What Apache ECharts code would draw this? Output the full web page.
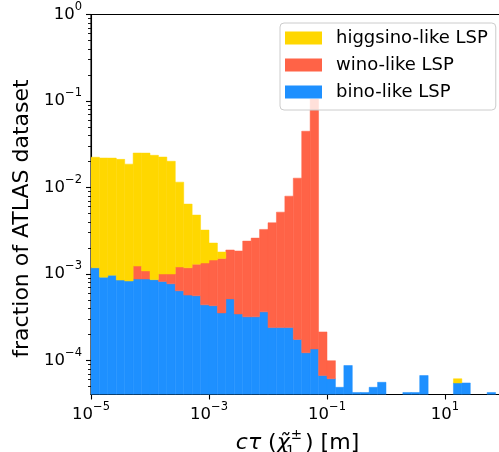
<!DOCTYPE html>
<html><head><meta charset="utf-8">
<script src="https://cdn.jsdelivr.net/npm/echarts@6/dist/echarts.min.js"></script>
<style>html,body{margin:0;padding:0;background:#fff}#c{width:499px;height:452px}</style>
</head><body><div id="c"></div>
<script>
// histogram bins: log-spaced, 7 bins per decade starting at 1e-5
const binStartExp = -5;
const binsPerDecade = 7;
const seriesNames = ['higgsino-like LSP', 'wino-like LSP', 'bino-like LSP'];
const bino = [1.18e-3, 9.2e-4, 9.7e-4, 8.5e-4, 8.3e-4, 8.75e-4, 8.75e-4, 8.6e-4, 8.2e-4, 7.7e-4,
  6.4e-4, 5.7e-4, 5.6e-4, 4.4e-4, 4.3e-4, 3.55e-4, 5.15e-4, 3.45e-4, 3.2e-4, 3.2e-4,
  3.65e-4, 2.4e-4, 2.4e-4, 2.4e-4, 1.75e-4, 1.23e-4, 1.36e-4, 6.7e-5, 6.15e-5, 4.9e-5,
  8.75e-5, 4.27e-5, 4.27e-5, 4.9e-5, 5.6e-5, 0, 0, 4.27e-5, 4.27e-5, 6.7e-5,
  0, 0, 0, 5.5e-5, 5.5e-5, 0, 0, 4.27e-5, 0];
const wino = [0, 0, 0, 0, 0, 3.6e-4, 2.1e-4, 0, 1.8e-4, 2.3e-4,
  5.65e-4, 6.1e-4, 7.4e-4, 9.0e-4, 1.02e-3, 1.16e-3, 1.38e-3, 1.50e-3, 2.08e-3, 2.28e-3,
  2.91e-3, 3.67e-3, 4.95e-3, 7.70e-3, 1.265e-2, 4.46e-2, 0.105, 1.47e-4, 3.8e-5, 0,
  0, 0, 0, 0, 0, 0, 0, 0, 0, 0,
  0, 0, 0, 0, 0, 0, 0, 0, 0];
const higgsino = [0.0212, 0.0210, 0.0209, 0.0203, 0.0178, 0.0238, 0.0239, 0.0227, 0.0215, 0.0191,
  0.01033, 0.00525, 0.0035, 0.00188, 0.00083, 0.00028, 0, 0, 0, 0,
  0, 0, 0, 0, 0, 0, 0, 0, 0, 0,
  0, 0, 0, 0, 0, 0, 0, 0, 0, 0,
  0, 0, 0, 6.5e-6, 0, 0, 0, 0, 0];
const xTickExps = [-5, -3, -1, 1];
const yTickExps = [-4, -3, -2, -1, 0];
const xMinExp = -5, xMaxExp = 2;
const yMinExp = -4.393, yMaxExp = 0;

const FONT = 'DejaVu Sans';
const yMinorTicks = [];
for (let n = -5; n < 0; n++) for (let k = 2; k <= 9; k++) {
  const v = Math.log10(k) + n;
  if (v > yMinExp && v < yMaxExp) yMinorTicks.push(v);
}
function powLabel(v) {
  const e = Math.round(v);
  return '{b|10}{s|' + (e < 0 ? '\u2212' + (-e) : String(e)) + '}';
}
const richPow = {
  b: {fontSize: 16.5, fontFamily: FONT, color: '#000', lineHeight: 27},
  s: {fontSize: 11.5, fontFamily: FONT, color: '#000', lineHeight: 11, verticalAlign: 'top'}
};
// stack bottom-to-top: bino, wino, higgsino
const stackOrder = [bino, wino, higgsino];
const stackNames = ['bino-like LSP', 'wino-like LSP', 'higgsino-like LSP'];
const stackColors = ['#1E90FF', '#FF6347', '#FFD700'];
const cum = bino.map(() => 0);
const series = stackOrder.map((arr, si) => {
  const data = [];
  arr.forEach((v, k) => {
    const lo = cum[k];
    const hi = lo + v;
    cum[k] = hi;
    if (v <= 0) return;
    const xl = binStartExp + k / binsPerDecade, xr = binStartExp + (k + 1) / binsPerDecade;
    data.push([xl, xr, lo > 0 ? Math.log10(lo) : yMinExp, Math.log10(hi)]);
  });
  const color = stackColors[si];
  return {
    name: stackNames[si], type: 'custom', coordinateSystem: 'cartesian2d',
    xAxisIndex: 0, yAxisIndex: 0, clip: true, z: 2,
    itemStyle: {color: color},
    encode: {x: [0, 1], y: [2, 3]},
    data: data,
    renderItem: function (params, api) {
      const p0 = api.coord([api.value(0), api.value(3)]);
      const p1 = api.coord([api.value(1), api.value(2)]);
      return {type: 'rect', shape: {x: p0[0], y: p0[1], width: p1[0] - p0[0], height: p1[1] - p0[1]},
        style: {fill: color, stroke: color, lineWidth: 0.5}};
    }
  };
});

const chart = echarts.init(document.getElementById('c'), null, {renderer: 'canvas'});
chart.setOption({
  animation: false,
  backgroundColor: '#fff',
  textStyle: {fontFamily: FONT},
  grid: {left: 91, top: 14.5, width: 413, height: 380, containLabel: false, outerBoundsMode: 'none',
    show: true, borderColor: '#000', borderWidth: 1.1, backgroundColor: 'transparent'},
  legend: {
    data: seriesNames, orient: 'vertical', left: 280, top: 23,
    icon: 'rect', itemWidth: 37, itemHeight: 13, itemGap: 9,
    padding: [6, 8, 9, 5],
    backgroundColor: 'rgba(255,255,255,0.8)', borderColor: '#cccccc', borderWidth: 1, borderRadius: 4,
    textStyle: {fontFamily: FONT, fontSize: 18, color: '#000', lineHeight: 18, padding: [0, 0, 0, 9]},
    selectedMode: false
  },
  xAxis: [{
    type: 'value', min: xMinExp, max: xMaxExp,
    name: '{i|c\u03c4} ({i|\u03c7\u0303}{sub|1}{sup|\u00b1}) [m]',
    nameLocation: 'middle', nameGap: 30,
    nameTextStyle: {fontFamily: FONT, fontSize: 22, color: '#000',
      rich: {
        i: {fontFamily: FONT, fontStyle: 'italic', fontSize: 22, color: '#000', lineHeight: 30},
        sub: {fontFamily: FONT, fontSize: 13.5, color: '#000', lineHeight: 17, verticalAlign: 'bottom', width: 1},
        sup: {fontFamily: FONT, fontSize: 13.5, color: '#000', lineHeight: 26, verticalAlign: 'top', padding: [0, 3, 0, 0]}
      }},
    axisLine: {show: true, onZero: false, lineStyle: {color: '#000', width: 1.1}},
    axisTick: {show: true, customValues: xTickExps, length: 5, lineStyle: {color: '#000', width: 1.1}},
    axisLabel: {customValues: xTickExps, formatter: powLabel, rich: richPow, margin: 7},
    splitLine: {show: false}
  }],
  yAxis: [{
    type: 'value', min: yMinExp, max: yMaxExp, position: 'left',
    name: 'fraction of ATLAS dataset', nameLocation: 'middle', nameGap: 57,
    nameTextStyle: {fontFamily: FONT, fontSize: 22, color: '#000', padding: [0, 28, 0, 0]},
    axisLine: {show: true, onZero: false, lineStyle: {color: '#000', width: 1.1}},
    axisTick: {show: true, customValues: yTickExps, length: 5, lineStyle: {color: '#000', width: 1.1}},
    axisLabel: {customValues: yTickExps, formatter: powLabel, rich: richPow, margin: 9},
    splitLine: {show: false}
  }, {
    type: 'value', min: yMinExp, max: yMaxExp, position: 'left', offset: 0,
    axisLine: {show: false, onZero: false},
    axisTick: {show: true, customValues: yMinorTicks, length: 3, lineStyle: {color: '#000', width: 0.9}},
    axisLabel: {show: false},
    splitLine: {show: false}
  }],
  series: series
});
</script></body></html>
